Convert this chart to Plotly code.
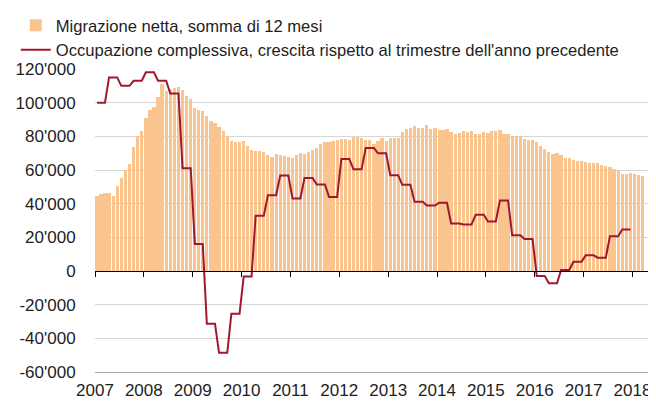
import numpy as np
import pandas as pd
import plotly.graph_objects as go

# ---------------- data ----------------
bar_name = "Migrazione netta, somma di 12 mesi"
line_name = "Occupazione complessiva, crescita rispetto al trimestre dell'anno precedente"

months = pd.date_range("2007-01-01", "2018-03-01", freq="MS")
migration = [
    44400, 45600, 46200, 46600, 44400, 50400, 55200, 59900, 63800, 73600, 80400, 83100,   # 2007
    91100, 95800, 97400, 103300, 111000, 106900, 108000, 108600, 109400, 107800, 103700, 102300,  # 2008
    97000, 95400, 94800, 92000, 89300, 87700, 85700, 83400, 80200, 77400, 76400, 76800,   # 2009
    77400, 74100, 72100, 71300, 71100, 70500, 68700, 67500, 69300, 68900, 68500, 67900,   # 2010
    67100, 68900, 70300, 69700, 70900, 71700, 73300, 75700, 76600, 76400, 77000, 77600,   # 2011
    78600, 78600, 78000, 79400, 79800, 79200, 77600, 77600, 75700, 77000, 79200, 77200,   # 2012
    78900, 79100, 79200, 82500, 84300, 84700, 85900, 84700, 84700, 86500, 84100, 84700,   # 2013
    83900, 83800, 84500, 82400, 81200, 82000, 83000, 82800, 83000, 81400, 81400, 82400,   # 2014
    82000, 83000, 83400, 83600, 81200, 81200, 80000, 80000, 80000, 78600, 78000, 77600,   # 2015
    76400, 74500, 72300, 70900, 69700, 70100, 69100, 67400, 67000, 66200, 65200, 65600,   # 2016
    65000, 64000, 64400, 64400, 63000, 62600, 61500, 60600, 59300, 57900, 57500, 58500,   # 2017
    57900, 57300, 56700,                                                                   # 2018
]

quarters = pd.date_range("2007-01-01", "2017-10-01", freq="QS")
employment_q = [
    100000, 115000, 110000, 113000,   # 2007
    118000, 113000, 105500, 61000,    # 2008
    16000, -31300, -48600, -25400,    # 2009
    -3300, 32800, 45000, 56700,       # 2010
    43100, 55300, 51400, 44000,       # 2011
    66600, 60400, 73100, 69900,       # 2012
    56900, 51200, 41100, 38900,       # 2013
    40500, 28200, 27600, 33400,       # 2014
    29400, 41900, 21300, 19000,       # 2015
    -3000, -7300, 600, 5500,          # 2016
    9300, 7900, 20700, 24700,         # 2017
]
# each quarterly value holds for the three months of its quarter
emp_months = pd.date_range(quarters[0], periods=len(employment_q) * 3, freq="MS")
emp_monthly = np.repeat(employment_q, 3)

y_tickvals = [-60000, -40000, -20000, 0, 20000, 40000, 60000, 80000, 100000, 120000]
y_ticktext = ["-60'000", "-40'000", "-20'000", "0", "20'000", "40'000",
              "60'000", "80'000", "100'000", "120'000"]
x_years = ["2007", "2008", "2009", "2010", "2011", "2012",
           "2013", "2014", "2015", "2016", "2017", "2018"]
x_tickvals = [f"{y}-01-01" for y in x_years]

# ---------------- style ----------------
BAR_COLOR = "#F9C48E"
LINE_COLOR = "#A0182F"
FONT = "Liberation Sans, Arial, sans-serif"
TXT = "#1e1e1e"
X_RANGE = ["2007-01-01", "2018-06-26"]

fig = go.Figure()
fig.add_trace(go.Bar(
    x=months, y=migration, name=bar_name,
    xperiod="M1", xperiodalignment="middle",
    width=24 * 86400000,
    marker=dict(color=BAR_COLOR, line=dict(width=0)),
    hoverinfo="x+y",
))
fig.add_trace(go.Scatter(
    x=emp_months, y=emp_monthly, name=line_name, mode="lines",
    xperiod="M1", xperiodalignment="middle",
    line=dict(color=LINE_COLOR, width=2),
))
# helper trace so the zero-line axis (with year ticks) is drawn
fig.add_trace(go.Scatter(
    x=[months[0]], y=[0], xaxis="x2", showlegend=False,
    hoverinfo="skip", mode="lines", line=dict(width=0),
))

# the page body adds an 8px offset, so the figure is 8px smaller than the window
fig.update_layout(
    width=648, height=393,
    margin=dict(l=87, r=0, t=61, b=29, autoexpand=False),
    paper_bgcolor="white", plot_bgcolor="white",
    font=dict(family=FONT, size=17, color=TXT),
    bargap=0,
    showlegend=True,
    legend=dict(
        xref="container", yref="container",
        x=0.012, y=1.008, xanchor="left", yanchor="top",
        font=dict(size=16.6, color=TXT),
        bgcolor="rgba(0,0,0,0)", borderwidth=0,
        tracegroupgap=0, itemwidth=30,
    ),
    xaxis=dict(
        type="date", range=X_RANGE,
        tickvals=x_tickvals, ticktext=x_years,
        ticks="outside", ticklen=3, tickcolor="rgba(0,0,0,0)",
        showgrid=False, zeroline=False,
        showline=True, linecolor="#a8a8a8", linewidth=1,
        tickfont=dict(size=17, color=TXT),
    ),
    xaxis2=dict(
        type="date", range=X_RANGE, overlaying="x",
        anchor="free", position=1 / 3,
        tickvals=x_tickvals, showticklabels=False,
        ticks="outside", ticklen=5, tickcolor="#000000", tickwidth=1,
        showgrid=False, zeroline=False,
        showline=True, linecolor="#000000", linewidth=1,
    ),
    yaxis=dict(
        range=[-60000, 120000],
        tickvals=y_tickvals, ticktext=y_ticktext,
        showgrid=True, gridcolor="#d6d6d6", gridwidth=1,
        zeroline=False,
        ticks="outside", ticklen=15, tickcolor="rgba(0,0,0,0)",
        tickfont=dict(size=17, color=TXT),
    ),
)

fig.write_html("out.html")
